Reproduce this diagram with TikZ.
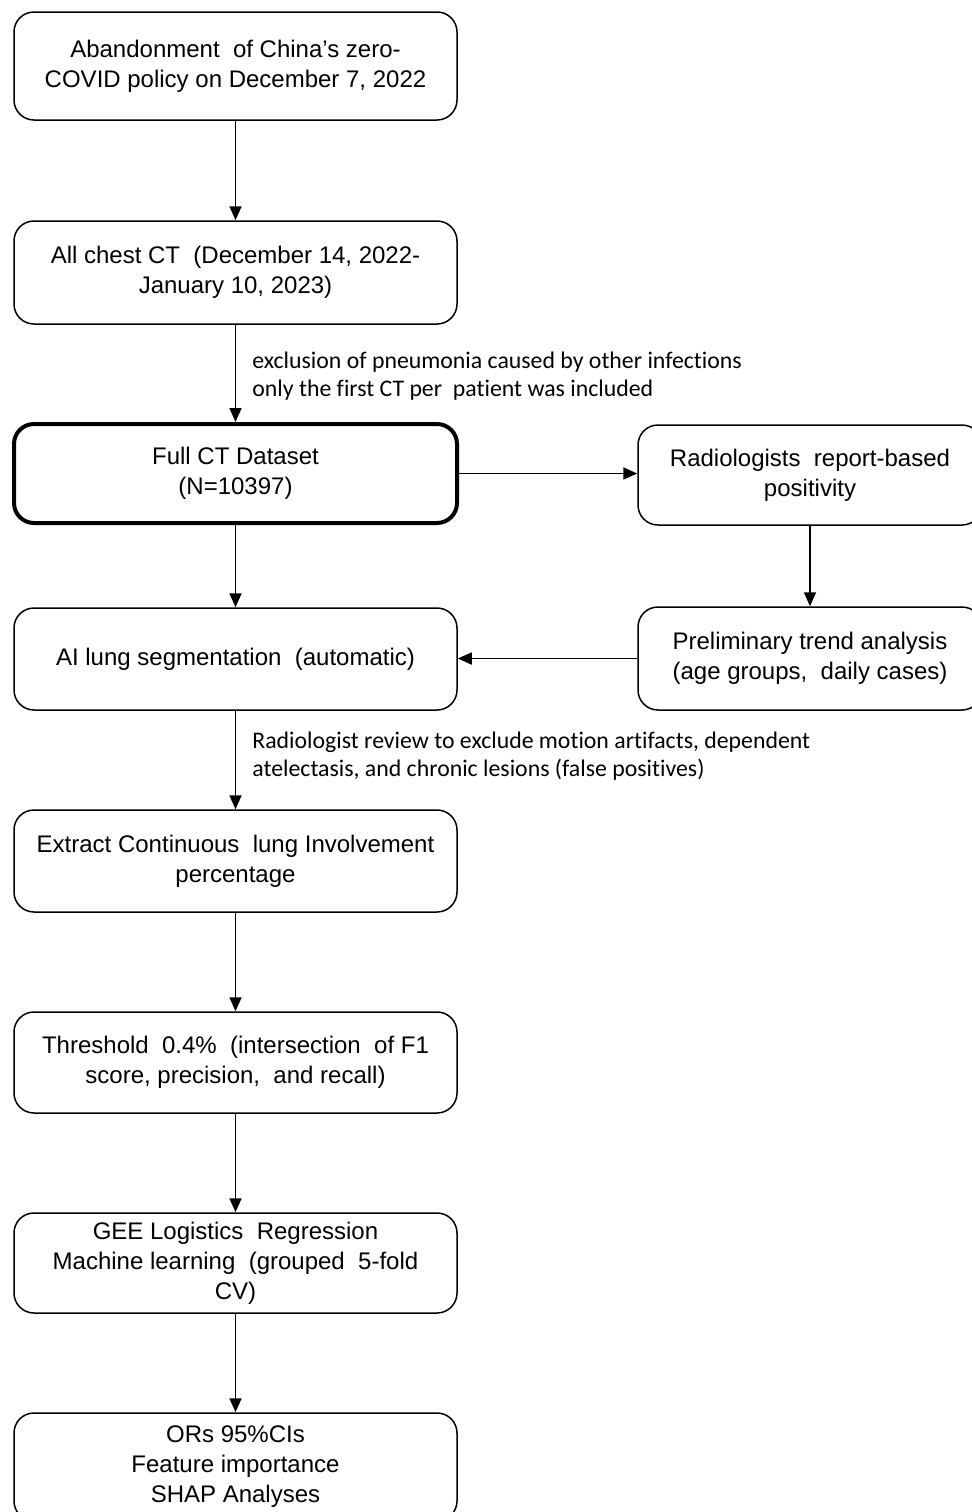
\documentclass[tikz,border=0pt]{standalone}
\usepackage{fontspec}
\setmainfont{Liberation Sans}
\newfontfamily\labelfont[Ligatures=NoCommon]{Carlito}
\usetikzlibrary{arrows.meta}
\begin{document}
\begin{tikzpicture}[x=0.5pt,y=-0.5pt,
  box/.style={draw, line width=0.75pt, rounded corners=10pt, align=center,
    font=\fontsize{12}{15}\selectfont, inner sep=2pt, minimum width=221.5pt},
  rbox/.style={box, minimum width=172pt},
  thickbox/.style={box, line width=2pt},
  lab/.style={anchor=west, align=left, inner sep=0pt, font=\labelfont\fontsize{11.9}{14.3}\selectfont},
  arr/.style={line width=0.85pt, -{Triangle[length=7pt,width=6pt]}}]
\useasboundingbox (0,0) rectangle (972,1512);
\clip (0,0) rectangle (972,1512);
\fill[white] (0,0) rectangle (972,1512);
\node[box, minimum height=54pt] (b1) at (235.5,66) {Abandonment\ \ of China’s zero-\\COVID policy on December 7, 2022};
\node[box, minimum height=51.5pt] (b2) at (235.5,272.5) {All chest CT \ (December 14, 2022-\\January 10, 2023)};
\node[thickbox, minimum height=49.5pt] (b3) at (235.5,473.5) {Full CT Dataset\\(N=10397)};
\node[rbox, minimum height=50pt] (r1) at (810,475) {Radiologists\ \ report-based\\positivity};
\node[rbox, minimum height=51.5pt] (r2) at (810,658.5) {Preliminary trend analysis\\(age groups,\ \ daily cases)};
\node[box, minimum height=51pt] (b4) at (235.5,659) {AI lung segmentation\ \ (automatic)};
\node[box, minimum height=51pt] (b5) at (235.5,861) {Extract Continuous\ \ lung Involvement\\percentage};
\node[box, minimum height=50.5pt] (b6) at (235.5,1062.5) {Threshold\ \ 0.4\%\ \ (intersection\ \ of F1\\score,\ precision,\ \ and recall)};
\node[box, minimum height=50pt] (b7) at (235.5,1263) {GEE Logistics\ \ Regression\\Machine learning\ \ (grouped\ \ 5-fold\\CV)};
\node[box, minimum height=54pt] (b8) at (235.5,1467) {ORs 95\%CIs\\Feature importance\\SHAP Analyses};
\draw[arr] (b1.south) -- (b2.north);
\draw[arr] (b2.south) -- (b3.north);
\node[lab] (l1) at (252,376) {exclusion of pneumonia caused\ by other infections\\only the first CT per\ \ patient was included};
\draw[arr] (b3.east) -- (b3.east -| r1.west);
\draw[arr] (r1.south) -- (r2.north);
\draw[arr] (r2.west) -- (r2.west -| b4.east);
\draw[arr] (b3.south) -- (b4.north);
\draw[arr] (b4.south) -- (b5.north);
\node[lab] (l2) at (252,756) {Radiologist review to exclude motion artifacts, dependent\\atelectasis, and chronic lesions (false positives)};
\draw[arr] (b5.south) -- (b6.north);
\draw[arr] (b6.south) -- (b7.north);
\draw[arr] (b7.south) -- (b8.north);
\end{tikzpicture}
\end{document}
